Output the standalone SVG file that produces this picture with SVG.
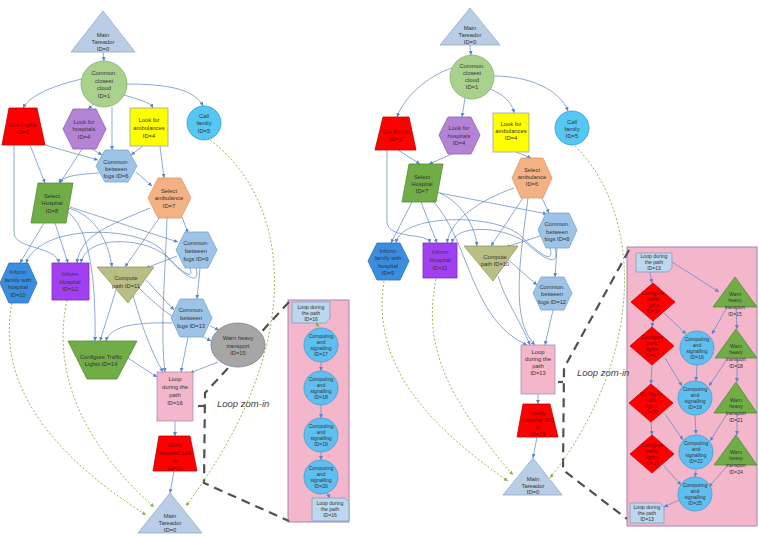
<svg xmlns="http://www.w3.org/2000/svg" width="759" height="537" viewBox="0 0 759 537">
<style>
.t{font-family:"Liberation Sans",Arial,sans-serif;font-size:5.8px;fill:#333;text-anchor:middle}
.s{font-size:5.1px}
.tr{fill:#7a0000}
.c{fill:none;stroke:#5b84c4;stroke-width:0.7;marker-end:url(#a)}
.g{fill:none;stroke:#8fb040;stroke-width:0.9;stroke-dasharray:2 2;marker-end:url(#ag)}
.d{fill:none;stroke:#505050;stroke-width:2.2;stroke-dasharray:9 6}
.zt{font-family:"Liberation Sans",Arial,sans-serif;font-style:italic;font-size:9.5px;fill:#404040}
.main{fill:#b9cde5;stroke:#8eaacb;stroke-width:.8}
.cloud{fill:#a9d18e;stroke:#82b366;stroke-width:.8}
.red{fill:#ff0000;stroke:#c00000;stroke-width:.8}
.hosp{fill:#b583d6;stroke:#8e5cb0;stroke-width:.8}
.amb{fill:#ffff00;stroke:#a0a0a0;stroke-width:.8}
.call{fill:#55c7f2;stroke:#2e9ad0;stroke-width:.8}
.fog{fill:#9dc3e6;stroke:#7aa3cc;stroke-width:.8}
.selamb{fill:#f4b183;stroke:#d99a6c;stroke-width:.8}
.green{fill:#70ad47;stroke:#558b35;stroke-width:.8}
.infam{fill:#3a8ee0;stroke:#2a70b8;stroke-width:.8}
.inhosp{fill:#a040f0;stroke:#7a2cc0;stroke-width:.8}
.comp{fill:#b9be84;stroke:#939860;stroke-width:.8}
.warn{fill:#a6a6a6;stroke:#808080;stroke-width:.8}
.loop{fill:#f4b6cb;stroke:#a58fb8;stroke-width:.8}
.pbox{fill:#f4b6cb;stroke:#9c86b5;stroke-width:1}
.cs{fill:#5fbff0;stroke:#3e9ed0;stroke-width:.8}
.ln{fill:#bdd7ee;stroke:#7f9fc0;stroke-width:.8}
</style>
<defs>
<marker id="a" viewBox="0 0 6 6" refX="6" refY="3" markerWidth="4" markerHeight="4" orient="auto" markerUnits="userSpaceOnUse"><path d="M0,0 L6,3 L0,6 z" fill="#5b84c4"/></marker>
<marker id="ag" viewBox="0 0 6 6" refX="6" refY="3" markerWidth="4" markerHeight="4" orient="auto" markerUnits="userSpaceOnUse"><path d="M0,0 L6,3 L0,6 z" fill="#8fb040"/></marker>
</defs>
<rect width="759" height="537" fill="#ffffff"/>

<g id="zoom-boxes">
<rect class="pbox" x="288" y="300" width="61" height="222"/>
<rect class="pbox" x="627" y="247" width="130" height="279"/>
</g>

<g id="zoom-lines">
<path class="d" d="M289,302 L205,393 L204,483 L289,521"/>
<path class="d" d="M198,406 L204,406" stroke-dasharray="none"/>
<path class="d" d="M629,250 L564,368 L563,470 L627,519"/>
<path class="d" d="M558,382 L563,382" stroke-dasharray="none"/>
<text class="zt" x="217" y="407">Loop zom-in</text>
<text class="zt" x="577" y="376">Loop zom-in</text>
</g>

<g id="connectors">
<!-- left diagram -->
<path class="c" d="M103,52 L104,61"/>
<path class="c" d="M82,79 C55,85 30,95 23,108"/>
<path class="c" d="M94,104 L88,109"/>
<path class="c" d="M112,107 L112,150"/>
<path class="c" d="M124,95 C140,100 150,102 153,108"/>
<path class="c" d="M127,84 C170,84 195,90 203,106"/>
<path class="c" d="M45,145 L98,160"/>
<path class="c" d="M30,145 L45,183"/>
<path class="c" d="M14,145 L14,232 C14,250 55,245 59,263"/>
<path class="c" d="M82,149 L60,183"/>
<path class="c" d="M92,149 L102,155"/>
<path class="c" d="M143,146 L131,155"/>
<path class="c" d="M160,146 L164,178"/>
<path class="c" d="M136,172 L152,186"/>
<path class="c" d="M99,173 C80,174 62,176 59,183"/>
<path class="c" d="M44,223 L20,263"/>
<path class="c" d="M55,223 L68,263"/>
<path class="c" d="M68,208 C95,215 108,240 112,267"/>
<path class="c" d="M70,207 L178,242"/>
<path class="c" d="M68,212 C90,230 96,280 95,341"/>
<path class="c" d="M160,217 L125,267"/>
<path class="c" d="M182,217 L188,233"/>
<path class="c" d="M150,208 C110,225 80,235 77,263"/>
<path class="c" d="M167,218 C165,280 160,330 165,372"/>
<path class="c" d="M177,256 L146,268"/>
<path class="c" d="M200,268 L197,299"/>
<path class="c" d="M190,268 C195,282 180,272 160,248 C130,225 40,225 26,263"/>
<path class="c" d="M196,268 C201,287 185,277 165,255 C140,236 85,236 81,263"/>
<path class="c" d="M146,280 L174,310"/>
<path class="c" d="M116,290 L100,341"/>
<path class="c" d="M132,292 C140,320 150,350 163,372"/>
<path class="c" d="M138,287 C160,310 190,330 211,341"/>
<path class="c" d="M172,323 C140,322 110,325 106,341"/>
<path class="c" d="M188,337 L181,372"/>
<path class="c" d="M210,326 L219,330"/>
<path class="c" d="M218,362 L190,373"/>
<path class="c" d="M128,358 L157,377"/>
<path class="c" d="M175,421 L175,436"/>
<path class="c" d="M174,471 L170,493"/>
<!-- left zoom box -->
<path class="g" d="M316,323 L319,327"/>
<path class="c" d="M321,362 L321,371"/>
<path class="c" d="M321,405 L321,418"/>
<path class="c" d="M321,452 L321,460"/>
<path class="c" d="M327,493 L330,498"/>
<!-- right diagram -->
<path class="c" d="M470,45 L471,55"/>
<path class="c" d="M452,68 C430,75 405,95 397,117"/>
<path class="c" d="M465,98 L462,117"/>
<path class="c" d="M490,89 C505,95 512,103 514,113"/>
<path class="c" d="M494,76 C530,76 560,90 568,111"/>
<path class="c" d="M398,150 L420,164"/>
<path class="c" d="M387,150 L387,222 C388,240 428,232 430,243"/>
<path class="c" d="M452,154 L429,164"/>
<path class="c" d="M516,152 L531,158"/>
<path class="c" d="M412,202 L391,243"/>
<path class="c" d="M421,202 L437,243"/>
<path class="c" d="M437,192 C460,200 475,225 477,246"/>
<path class="c" d="M440,193 L547,214"/>
<path class="c" d="M432,200 C470,240 470,320 527,345"/>
<path class="c" d="M514,188 C480,200 450,220 447,243"/>
<path class="c" d="M523,198 L491,246"/>
<path class="c" d="M542,198 L549,213"/>
<path class="c" d="M528,198 C520,260 510,320 535,345"/>
<path class="c" d="M540,236 L506,247"/>
<path class="c" d="M557,248 L555,277"/>
<path class="c" d="M550,248 C555,265 540,255 520,235 C490,212 400,215 396,243"/>
<path class="c" d="M555,248 C560,268 545,260 525,242 C500,225 455,225 452,243"/>
<path class="c" d="M506,258 L537,285"/>
<path class="c" d="M498,276 C505,300 520,320 530,345"/>
<path class="c" d="M553,310 L545,345"/>
<path class="c" d="M538,394 L538,404"/>
<path class="c" d="M537,437 L533,458"/>
<!-- right zoom box -->
<path class="c" d="M672,262 L719,292"/>
<path class="c" d="M650,272 L652,283"/>
<path class="c" d="M653,321 L652,327"/>
<path class="c" d="M664,313 L686,334"/>
<path class="c" d="M727,307 L712,334"/>
<path class="c" d="M736,308 L737,329"/>
<path class="c" d="M652,365 L651,384"/>
<path class="c" d="M665,358 L682,386"/>
<path class="c" d="M697,365 L696,381"/>
<path class="c" d="M727,359 L709,386"/>
<path class="c" d="M737,359 L737,382"/>
<path class="c" d="M651,422 L652,435"/>
<path class="c" d="M665,414 L683,440"/>
<path class="c" d="M695,415 L696,434"/>
<path class="c" d="M727,414 L710,441"/>
<path class="c" d="M737,414 L737,435"/>
<path class="c" d="M664,466 L681,485"/>
<path class="c" d="M696,470 L695,477"/>
<path class="c" d="M727,466 L709,487"/>
<path class="c" d="M679,500 L664,507"/>
<!-- dotted return links -->
<path class="g" d="M210,140 C290,200 310,340 186,506"/>
<path class="g" d="M12,303 C-5,390 60,460 146,515"/>
<path class="g" d="M67,300 C50,380 90,450 154,507"/>
<path class="g" d="M575,146 C640,210 650,350 550,478"/>
<path class="g" d="M384,281 C372,360 420,420 508,481"/>
<path class="g" d="M436,279 C424,340 440,390 513,475"/>
</g>

<!-- LEFT DIAGRAM NODES -->
<g id="L-main-top"><polygon class="main" points="103,11 135,52 71,52"/><text class="t"><tspan x="103" y="37">Main</tspan><tspan x="103" y="44">Tareador</tspan><tspan x="103" y="51">ID=0</tspan></text></g>
<g id="L-cloud-1"><circle class="cloud" cx="104" cy="84" r="23"/><text class="t"><tspan x="104" y="75">Commun.</tspan><tspan x="104" y="82.5">closest</tspan><tspan x="104" y="90">cloud</tspan><tspan x="104" y="97.5">ID=1</tspan></text></g>
<g id="L-profile-2"><polygon class="red" points="9,108 37,108 45,145 2,145"/><text class="t tr"><tspan x="23" y="127">Get Profile</tspan><tspan x="23" y="134">ID=2</tspan></text></g>
<g id="L-hospitals-4"><polygon class="hosp" points="63,129 73,109 96,109 106,129 96,149 73,149"/><text class="t"><tspan x="84" y="124">Look for</tspan><tspan x="84" y="131">hospitals</tspan><tspan x="84" y="139">ID=4</tspan></text></g>
<g id="L-ambulances-4"><rect class="amb" x="130" y="108" width="38" height="38"/><text class="t"><tspan x="149" y="122">Look for</tspan><tspan x="149" y="130">ambulances</tspan><tspan x="149" y="138">ID=4</tspan></text></g>
<g id="L-call-5"><circle class="call" cx="204" cy="123" r="17"/><text class="t"><tspan x="204" y="118">Call</tspan><tspan x="204" y="125">family</tspan><tspan x="204" y="133">ID=5</tspan></text></g>
<g id="L-fogs-6"><polygon class="fog" points="96,166 105,150 128,150 137,166 128,182 105,182"/><text class="t"><tspan x="116" y="164">Commun-</tspan><tspan x="116" y="171">between</tspan><tspan x="116" y="178">fogs ID=6</tspan></text></g>
<g id="L-selamb-7"><polygon class="selamb" points="148,198 158,178 181,178 191,198 181,218 158,218"/><text class="t"><tspan x="169" y="193">Select</tspan><tspan x="169" y="200">ambulance</tspan><tspan x="169" y="208">ID=7</tspan></text></g>
<g id="L-selhosp-8"><polygon class="green" points="38,183 73,183 66,223 31,223"/><text class="t"><tspan x="52" y="198">Select</tspan><tspan x="52" y="205">Hospital</tspan><tspan x="52" y="213">ID=8</tspan></text></g>
<g id="L-fogs-9"><polygon class="fog" points="176,250 185,232 208,232 217,250 208,268 185,268"/><text class="t"><tspan x="196" y="245">Commun-</tspan><tspan x="196" y="253">between</tspan><tspan x="196" y="261">fogs ID=9</tspan></text></g>
<g id="L-infam-10"><polygon class="infam" points="0,283 9,263 28,263 37,283 28,303 9,303"/><text class="t"><tspan x="18" y="274">Inform</tspan><tspan x="18" y="282">family with</tspan><tspan x="18" y="289">hospital</tspan><tspan x="18" y="297">ID=10</tspan></text></g>
<g id="L-inhosp-12"><rect class="inhosp" x="52" y="263" width="37" height="37"/><text class="t"><tspan x="70" y="276">Inform</tspan><tspan x="70" y="284">Hospital</tspan><tspan x="70" y="291">ID=12</tspan></text></g>
<g id="L-compute-11"><polygon class="comp" points="97,267 154,267 128,303"/><text class="t"><tspan x="126" y="280">Compute</tspan><tspan x="126" y="288">path ID=11</tspan></text></g>
<g id="L-fogs-13"><polygon class="fog" points="171,318 180,299 203,299 212,318 203,337 180,337"/><text class="t"><tspan x="191" y="312">Commun.</tspan><tspan x="191" y="320">between</tspan><tspan x="191" y="328">fogs ID=13</tspan></text></g>
<g id="L-warn-15"><ellipse class="warn" cx="238" cy="345" rx="27" ry="22"/><text class="t"><tspan x="238" y="340">Warn heavy</tspan><tspan x="238" y="348">transport</tspan><tspan x="238" y="355">ID=15</tspan></text></g>
<g id="L-traffic-14"><polygon class="green" points="68,341 137,341 117,379 87,379"/><text class="t"><tspan x="101" y="359">Configure Traffic</tspan><tspan x="101" y="366">Lights ID=14</tspan></text></g>
<g id="L-loop-16"><rect class="loop" x="157" y="372" width="36" height="49"/><text class="t"><tspan x="175" y="381">Loop</tspan><tspan x="175" y="389">during the</tspan><tspan x="175" y="397">path</tspan><tspan x="175" y="405">ID=16</tspan></text></g>
<g id="L-notify-23"><polygon class="red" points="159,436 190,436 197,471 153,471"/><text class="t tr"><tspan x="175" y="447">Notify</tspan><tspan x="175" y="455">hospital 500</tspan><tspan x="175" y="463">m</tspan><tspan x="175" y="470">ID=23</tspan></text></g>
<g id="L-main-bottom"><polygon class="main" points="170,493 202,533 138,533"/><text class="t"><tspan x="170" y="518">Main</tspan><tspan x="170" y="525">Tareador</tspan><tspan x="170" y="532">ID=0</tspan></text></g>

<!-- LEFT ZOOM BOX NODES -->
<g id="LZ-loop-top"><path class="ln" d="M292,302 H330 V318 L326,323 H292 Z"/><text class="t s"><tspan x="311" y="308.5">Loop during</tspan><tspan x="311" y="314.5">the path</tspan><tspan x="311" y="320.5">ID=16</tspan></text></g>
<g id="LZ-comp-17"><circle class="cs" cx="321" cy="345" r="17"/><text class="t s"><tspan x="321" y="338.2">Computing</tspan><tspan x="321" y="344">and</tspan><tspan x="321" y="349.8">signalling</tspan><tspan x="321" y="355.6">ID=17</tspan></text></g>
<g id="LZ-comp-18"><circle class="cs" cx="321" cy="388" r="17"/><text class="t s"><tspan x="321" y="381.2">Computing</tspan><tspan x="321" y="387">and</tspan><tspan x="321" y="392.8">signalling</tspan><tspan x="321" y="398.6">ID=18</tspan></text></g>
<g id="LZ-comp-19"><circle class="cs" cx="321" cy="435" r="17"/><text class="t s"><tspan x="321" y="428.2">Computing</tspan><tspan x="321" y="434">and</tspan><tspan x="321" y="439.8">signalling</tspan><tspan x="321" y="445.6">ID=19</tspan></text></g>
<g id="LZ-comp-20"><circle class="cs" cx="321" cy="477" r="17"/><text class="t s"><tspan x="321" y="470.2">Computing</tspan><tspan x="321" y="476">and</tspan><tspan x="321" y="481.8">signalling</tspan><tspan x="321" y="487.6">ID=20</tspan></text></g>
<g id="LZ-loop-bottom"><path class="ln" d="M312,498 H345 L349,502 V521 H312 Z"/><text class="t s"><tspan x="330" y="505">Loop during</tspan><tspan x="330" y="511">the path</tspan><tspan x="330" y="517">ID=16</tspan></text></g>

<!-- RIGHT DIAGRAM NODES -->
<g id="R-main-top"><polygon class="main" points="470,8 500,45 440,45"/><text class="t"><tspan x="470" y="30">Main</tspan><tspan x="470" y="37">Tareador</tspan><tspan x="470" y="44">ID=0</tspan></text></g>
<g id="R-cloud-1"><circle class="cloud" cx="472" cy="77" r="22"/><text class="t"><tspan x="472" y="68">Commun.</tspan><tspan x="472" y="75">closest</tspan><tspan x="472" y="82">cloud</tspan><tspan x="472" y="89">ID=1</tspan></text></g>
<g id="R-profile-2"><polygon class="red" points="383,117 409,117 416,150 375,150"/><text class="t tr"><tspan x="396" y="134">Get Profile</tspan><tspan x="396" y="141">ID=2</tspan></text></g>
<g id="R-hospitals-4"><polygon class="hosp" points="439,135 448,117 471,117 480,135 471,154 448,154"/><text class="t"><tspan x="459" y="130">Look for</tspan><tspan x="459" y="138">hospitals</tspan><tspan x="459" y="145">ID=4</tspan></text></g>
<g id="R-ambulances-4"><rect class="amb" x="493" y="113" width="36" height="39"/><text class="t"><tspan x="511" y="126">Look for</tspan><tspan x="511" y="133">ambulances</tspan><tspan x="511" y="140">ID=4</tspan></text></g>
<g id="R-call-5"><circle class="call" cx="572" cy="128" r="17"/><text class="t"><tspan x="572" y="124">Call</tspan><tspan x="572" y="131">family</tspan><tspan x="572" y="138">ID=5</tspan></text></g>
<g id="R-selhosp-7"><polygon class="green" points="409,164 443,164 436,202 402,202"/><text class="t"><tspan x="422" y="179">Select</tspan><tspan x="422" y="186">Hospital</tspan><tspan x="422" y="193">ID=7</tspan></text></g>
<g id="R-selamb-6"><polygon class="selamb" points="512,178 521,158 543,158 552,178 543,198 521,198"/><text class="t"><tspan x="532" y="172">Select</tspan><tspan x="532" y="179">ambulance</tspan><tspan x="532" y="186">ID=6</tspan></text></g>
<g id="R-fogs-8"><polygon class="fog" points="538,230 546,213 569,213 577,230 569,248 546,248"/><text class="t"><tspan x="557" y="226">Commun.</tspan><tspan x="557" y="234">between</tspan><tspan x="557" y="241">fogs ID=8</tspan></text></g>
<g id="R-infam-9"><polygon class="infam" points="368,261 377,243 400,243 409,261 400,280 377,280"/><text class="t"><tspan x="388" y="253">Inform</tspan><tspan x="388" y="260">family with</tspan><tspan x="388" y="268">hospital</tspan><tspan x="388" y="275">ID=9</tspan></text></g>
<g id="R-inhosp-11"><rect class="inhosp" x="423" y="243" width="34" height="35"/><text class="t"><tspan x="440" y="254">Inform</tspan><tspan x="440" y="262">Hospital</tspan><tspan x="440" y="270">ID=11</tspan></text></g>
<g id="R-compute-10"><polygon class="comp" points="464,246 518,246 493,281"/><text class="t"><tspan x="495" y="259">Compute</tspan><tspan x="495" y="266">path ID=10</tspan></text></g>
<g id="R-fogs-12"><polygon class="fog" points="533,293 541,277 564,277 572,293 564,310 541,310"/><text class="t"><tspan x="552" y="289">Commun.</tspan><tspan x="552" y="296">between</tspan><tspan x="552" y="304">fogs ID=12</tspan></text></g>
<g id="R-loop-13"><rect class="loop" x="521" y="345" width="34" height="49"/><text class="t"><tspan x="538" y="354">Loop</tspan><tspan x="538" y="361">during the</tspan><tspan x="538" y="368">path</tspan><tspan x="538" y="375">ID=13</tspan></text></g>
<g id="R-notify-26"><polygon class="red" points="523,404 550,404 558,437 517,437"/><text class="t tr"><tspan x="538" y="415">Notify</tspan><tspan x="538" y="422">hospital 500</tspan><tspan x="538" y="429">m</tspan><tspan x="538" y="436">ID=26</tspan></text></g>
<g id="R-main-bottom"><polygon class="main" points="533,458 562,495 503,495"/><text class="t"><tspan x="533" y="481">Main</tspan><tspan x="533" y="487.5">Tareador</tspan><tspan x="533" y="494">ID=0</tspan></text></g>

<!-- RIGHT ZOOM BOX NODES -->
<g id="RZ-loop-top"><path class="ln" d="M636,253 H672 V268 L668,272 H636 Z"/><text class="t s"><tspan x="654" y="258">Loop during</tspan><tspan x="654" y="264">the path</tspan><tspan x="654" y="270">ID=13</tspan></text></g>
<g id="RZ-traffic-14"><polygon class="red" points="653,283 675,302 653,321 631,302"/><text class="t s tr"><tspan x="653" y="295">Configure</tspan><tspan x="653" y="300.5">traffic</tspan><tspan x="653" y="306.5">lights</tspan><tspan x="653" y="312.5">ID=14</tspan></text></g>
<g id="RZ-traffic-17"><polygon class="red" points="652,327 674,346 652,365 630,346"/><text class="t s tr"><tspan x="652" y="339">Configure</tspan><tspan x="652" y="344.5">traffic</tspan><tspan x="652" y="350.5">lights</tspan><tspan x="652" y="356.5">ID=17</tspan></text></g>
<g id="RZ-traffic-20"><polygon class="red" points="651,384 673,403 651,422 629,403"/><text class="t s tr"><tspan x="651" y="396">Configure</tspan><tspan x="651" y="401.5">traffic</tspan><tspan x="651" y="407.5">lights</tspan><tspan x="651" y="413.5">ID=20</tspan></text></g>
<g id="RZ-traffic-23"><polygon class="red" points="652,435 674,454 652,473 630,454"/><text class="t s tr"><tspan x="652" y="447">Configure</tspan><tspan x="652" y="452.5">traffic</tspan><tspan x="652" y="458.5">lights</tspan><tspan x="652" y="464.5">ID=23</tspan></text></g>
<g id="RZ-comp-16"><circle class="cs" cx="697" cy="348" r="17"/><text class="t s"><tspan x="697" y="341.2">Computing</tspan><tspan x="697" y="347">and</tspan><tspan x="697" y="352.8">signalling</tspan><tspan x="697" y="358.6">ID=16</tspan></text></g>
<g id="RZ-comp-19"><circle class="cs" cx="695" cy="398" r="17"/><text class="t s"><tspan x="695" y="391.2">Computing</tspan><tspan x="695" y="397">and</tspan><tspan x="695" y="402.8">signalling</tspan><tspan x="695" y="408.6">ID=19</tspan></text></g>
<g id="RZ-comp-22"><circle class="cs" cx="696" cy="452" r="17"/><text class="t s"><tspan x="696" y="445.2">Computing</tspan><tspan x="696" y="451">and</tspan><tspan x="696" y="456.8">signalling</tspan><tspan x="696" y="462.6">ID=22</tspan></text></g>
<g id="RZ-comp-25"><circle class="cs" cx="695" cy="494" r="17"/><text class="t s"><tspan x="695" y="487.2">Computing</tspan><tspan x="695" y="493">and</tspan><tspan x="695" y="498.8">signalling</tspan><tspan x="695" y="504.6">ID=25</tspan></text></g>
<g id="RZ-warn-15"><polygon class="green" points="735,277 757,307 713,307"/><text class="t s"><tspan x="735" y="296">Warn</tspan><tspan x="735" y="302">heavy</tspan><tspan x="735" y="309">transport</tspan><tspan x="735" y="316">ID=15</tspan></text></g>
<g id="RZ-warn-18"><polygon class="green" points="736,329 757,358 715,358"/><text class="t s"><tspan x="736" y="348">Warn</tspan><tspan x="736" y="354">heavy</tspan><tspan x="736" y="361">transport</tspan><tspan x="736" y="368">ID=18</tspan></text></g>
<g id="RZ-warn-21"><polygon class="green" points="736,382 757,413 714,413"/><text class="t s"><tspan x="736" y="402">Warn</tspan><tspan x="736" y="408">heavy</tspan><tspan x="736" y="415">transport</tspan><tspan x="736" y="422">ID=21</tspan></text></g>
<g id="RZ-warn-24"><polygon class="green" points="736,435 757,465 714,465"/><text class="t s"><tspan x="736" y="454">Warn</tspan><tspan x="736" y="460">heavy</tspan><tspan x="736" y="467">transport</tspan><tspan x="736" y="474">ID=24</tspan></text></g>
<g id="RZ-loop-bottom"><path class="ln" d="M630,503 H660 L664,507 V523 H630 Z"/><text class="t s"><tspan x="647" y="509">Loop during</tspan><tspan x="647" y="515">the path</tspan><tspan x="647" y="521">ID=13</tspan></text></g>
</svg>
